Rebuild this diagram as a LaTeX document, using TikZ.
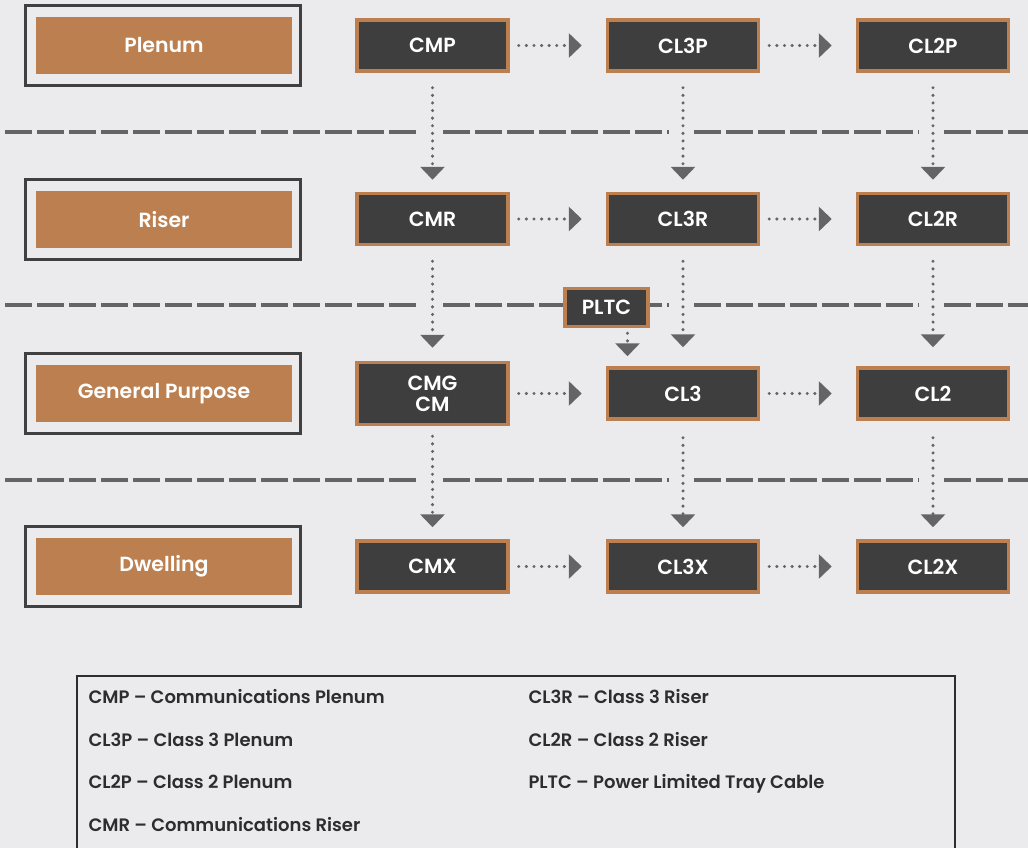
\documentclass[tikz,border=0pt]{standalone}
\usepackage{fontspec}
\setmainfont{Poppins}[BoldFont={Poppins SemiBold}]
\usepackage{tikz}
\usetikzlibrary{arrows.meta,positioning}
\usepackage{xcolor}
\definecolor{bgc}{RGB}{235,235,238}
\definecolor{copper}{RGB}{187,127,80}
\definecolor{darkbox}{RGB}{62,62,62}
\definecolor{framec}{RGB}{64,64,64}
\definecolor{arrowc}{RGB}{100,100,102}
\definecolor{textc}{RGB}{45,45,45}

\begin{document}
\begin{tikzpicture}[x=1pt,y=-1pt,>={Triangle[length=13pt,width=24pt]},
  every node/.style={font=\bfseries\fontsize{20.5}{21}\selectfont}]
\tikzstyle{frame}=[draw=framec,line width=3.5pt,minimum width=275pt,minimum height=80pt]
\tikzstyle{cat}=[fill=copper,text=white,minimum width=256pt,minimum height=57pt]
\tikzstyle{cable}=[draw=copper,fill=darkbox,text=white,line width=3.5pt,align=center,minimum width=151pt,minimum height=51pt]
\tikzstyle{flow}=[->,arrowc,line width=3.4pt,line cap=round,dash pattern=on 0pt off 7.6pt]
\tikzstyle{down}=[flow,shorten <=15pt,shorten >=12pt]
\tikzstyle{across}=[flow,shorten <=9pt,shorten >=24pt]
\tikzstyle{legend}=[anchor=base west,text=textc,font=\bfseries\fontsize{18}{20}\selectfont]
\useasboundingbox (0,0) rectangle (1028,848);
\fill[bgc] (0,0) rectangle (1028,848);
% level separators
\foreach \y in {132,305,480}
  \foreach \a/\b in {5/418,443/669,694/919,944/1030}
    \draw[arrowc,line width=4pt,dash pattern=on 27pt off 5pt] (\a,\y) -- (\b,\y);
% categories
\node[frame] (plenumF) at (163,45.5) {};
\node[cat] (plenum) at (164,45.5) {Plenum};
\node[frame] (riserF) at (163,219.5) {};
\node[cat] (riser) at (164,219.5) {Riser};
\node[frame] (generalF) at (163,393.5) {};
\node[cat] (general) at (164,393.5) {General Purpose};
\node[frame] (dwellingF) at (163,566.5) {};
\node[cat] (dwelling) at (164,566.5) {Dwelling};
% cable types
\node[cable] (cmp) at (432.5,45.5) {CMP};
\node[cable] (cl3p) at (683,45.5) {CL3P};
\node[cable] (cl2p) at (933,45.5) {CL2P};
\node[cable] (cmr) at (432.5,219) {CMR};
\node[cable] (cl3r) at (683,219) {CL3R};
\node[cable] (cl2r) at (933,219) {CL2R};
\node[cable,minimum height=62pt] (cmg) at (432.5,393.5) {CMG\\CM};
\node[cable] (cl3) at (683,393.5) {CL3};
\node[cable] (cl2) at (933,393.5) {CL2};
\node[cable] (cmx) at (432.5,566.5) {CMX};
\node[cable] (cl3x) at (683,566.5) {CL3X};
\node[cable] (cl2x) at (933,566.5) {CL2X};
\node[cable,minimum width=83pt,minimum height=38pt] (pltc) at (606.5,307.5) {PLTC};
% connections
\draw[across] (cmp) -- (cl3p);
\draw[across] (cl3p) -- (cl2p);
\draw[across] (cmr) -- (cl3r);
\draw[across] (cl3r) -- (cl2r);
\draw[across] (cmg) -- (cl3);
\draw[across] (cl3) -- (cl2);
\draw[across] (cmx) -- (cl3x);
\draw[across] (cl3x) -- (cl2x);
\draw[down] (cmp) -- (cmr);
\draw[down] (cl3p) -- (cl3r);
\draw[down] (cl2p) -- (cl2r);
\draw[down,shorten >=13pt] (cmr) -- (cmg);
\draw[down,shorten >=19pt] (cl3r) -- (cl3);
\draw[down,shorten >=19pt] (cl2r) -- (cl2);
\draw[down,shorten <=10pt] (cmg) -- (cmx);
\draw[down,shorten <=17pt] (cl3) -- (cl3x);
\draw[down,shorten <=17pt] (cl2) -- (cl2x);
\draw[flow,shorten <=5pt,shorten >=10pt] ([xshift=21pt]pltc.south) -- ([xshift=21pt]pltc.south |- cl3.north);
% key
\draw[textc,line width=2pt] (77,676) rectangle (955,852);
\node[legend] (kcmp) at (85,703) {CMP – Communications Plenum};
\node[legend] (kcl3p) at (85,746) {CL3P – Class 3 Plenum};
\node[legend] (kcl2p) at (85,788) {CL2P – Class 2 Plenum};
\node[legend] (kcmr) at (85,831) {CMR – Communications Riser};
\node[legend] (kcl3r) at (525,703) {CL3R – Class 3 Riser};
\node[legend] (kcl2r) at (525,746) {CL2R – Class 2 Riser};
\node[legend] (kpltc) at (525,788) {PLTC – Power Limited Tray Cable};
\end{tikzpicture}
\end{document}
